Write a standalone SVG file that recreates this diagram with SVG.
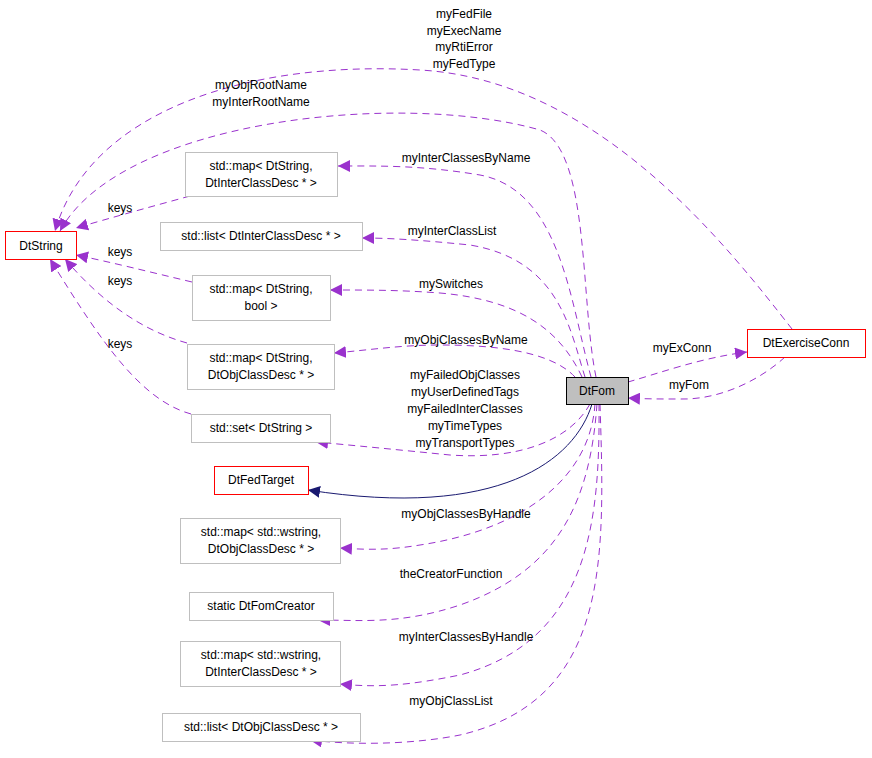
<svg xmlns="http://www.w3.org/2000/svg" width="872" height="758" viewBox="0 0 872 758">
<style>
text{font-family:"Liberation Sans",Arial,sans-serif;font-size:12px;fill:#000}
.n{fill:#fff;stroke:#bfbfbf}
.r{fill:#fff;stroke:#ff0000}
.e{fill:none;stroke:#9a32cd;stroke-dasharray:7,5}
.m{text-anchor:middle}
</style>
<defs>
<marker id="a" viewBox="0 0 10 10" refX="10" refY="5" markerWidth="12" markerHeight="12" markerUnits="userSpaceOnUse" orient="auto"><path d="M0,0L10,5L0,10z" fill="#9a32cd"/></marker>
<marker id="b" viewBox="0 0 10 10" refX="10" refY="5" markerWidth="12" markerHeight="12" markerUnits="userSpaceOnUse" orient="auto"><path d="M0,0L10,5L0,10z" fill="#191970"/></marker>
</defs>
<rect width="872" height="758" fill="#fff"/>
<g id="edges">
<path class="e" marker-end="url(#a)" d="M792,329C730,250 600,80 420,70C250,60 90,110 55,231"/>
<path class="e" marker-end="url(#a)" d="M596,377C580,300 590,150 540,130C400,90 120,120 60,231"/>
<path class="e" marker-end="url(#a)" d="M591,377C570,300 560,190 480,175C420,165 380,166 338,166"/>
<path class="e" marker-end="url(#a)" d="M585,377C570,330 560,260 470,245C420,240 390,238 362,238"/>
<path class="e" marker-end="url(#a)" d="M582,377C560,330 520,300 440,293C400,290 370,290 330,290"/>
<path class="e" marker-end="url(#a)" d="M575,377C550,350 490,345 440,345C400,345 370,350 334,353"/>
<path class="e" marker-end="url(#a)" d="M590,404C570,440 520,460 450,455C400,450 350,445 316,442"/>
<path stroke="#191970" fill="none" marker-end="url(#b)" d="M592,404C575,460 500,520 308,490"/>
<path class="e" marker-end="url(#a)" d="M595,404C590,480 520,530 420,545C390,550 370,550 340,548"/>
<path class="e" marker-end="url(#a)" d="M597,404C590,500 560,570 460,605C400,625 360,620 318,620"/>
<path class="e" marker-end="url(#a)" d="M599,404C600,520 590,640 460,675C410,685 380,688 340,684"/>
<path class="e" marker-end="url(#a)" d="M600,404C605,560 610,700 460,735C410,745 350,745 310,740"/>
<path class="e" marker-end="url(#a)" d="M628,382C660,373 700,358 747,352"/>
<path class="e" marker-end="url(#a)" d="M785,357C760,380 720,400 680,399C660,399 645,399 628,398"/>
<path class="e" marker-end="url(#a)" d="M190,196C150,207 110,218 76,228"/>
<path class="e" marker-end="url(#a)" d="M192,282C150,272 110,262 76,255"/>
<path class="e" marker-end="url(#a)" d="M187,343C140,330 100,300 65,259"/>
<path class="e" marker-end="url(#a)" d="M191,414C140,400 100,340 50,259"/>
</g>
<g id="labels">
<text class="m" x="464" y="18">myFedFile</text>
<text class="m" x="464" y="35">myExecName</text>
<text class="m" x="464" y="51">myRtiError</text>
<text class="m" x="464" y="68">myFedType</text>
<text class="m" x="261" y="89">myObjRootName</text>
<text class="m" x="261" y="106">myInterRootName</text>
<text class="m" x="466" y="162">myInterClassesByName</text>
<text class="m" x="452" y="235">myInterClassList</text>
<text class="m" x="451" y="288">mySwitches</text>
<text class="m" x="466" y="344">myObjClassesByName</text>
<text class="m" x="465" y="379">myFailedObjClasses</text>
<text class="m" x="465" y="396">myUserDefinedTags</text>
<text class="m" x="465" y="413">myFailedInterClasses</text>
<text class="m" x="465" y="430">myTimeTypes</text>
<text class="m" x="465" y="447">myTransportTypes</text>
<text class="m" x="466" y="518">myObjClassesByHandle</text>
<text class="m" x="451" y="578">theCreatorFunction</text>
<text class="m" x="466" y="641">myInterClassesByHandle</text>
<text class="m" x="451" y="705">myObjClassList</text>
<text class="m" x="682" y="352">myExConn</text>
<text class="m" x="689" y="389">myFom</text>
<text class="m" x="120" y="212">keys</text>
<text class="m" x="120" y="256">keys</text>
<text class="m" x="120" y="285">keys</text>
<text class="m" x="120" y="348">keys</text>
</g>
<g id="DtString"><rect class="r" x="5.5" y="231.5" width="71" height="28"/><text class="m" x="41" y="250">DtString</text></g>
<g id="DtFom"><rect x="566.5" y="377.5" width="62" height="27" fill="#bfbfbf" stroke="#000"/><text class="m" x="597" y="395">DtFom</text></g>
<g id="DtExerciseConn"><rect x="747.5" y="329.5" width="118" height="28" fill="#ffffff" stroke="#ff0000"/><text class="m" x="806" y="347">DtExerciseConn</text></g>
<g id="n1"><rect class="n" x="185.5" y="152.5" width="152" height="44"/><text class="m" x="261" y="170">std::map&lt; DtString,</text><text class="m" x="261" y="187">DtInterClassDesc * &gt;</text></g>
<g id="n2"><rect class="n" x="160.5" y="222.5" width="202" height="28"/><text class="m" x="261" y="240">std::list&lt; DtInterClassDesc * &gt;</text></g>
<g id="n3"><rect class="n" x="192.5" y="275.5" width="138" height="45"/><text class="m" x="261" y="293">std::map&lt; DtString,</text><text class="m" x="261" y="310">bool &gt;</text></g>
<g id="n4"><rect class="n" x="187.5" y="344.5" width="147" height="45"/><text class="m" x="261" y="362">std::map&lt; DtString,</text><text class="m" x="261" y="379">DtObjClassDesc * &gt;</text></g>
<g id="n5"><rect class="n" x="191.5" y="414.5" width="139" height="28"/><text class="m" x="261" y="432">std::set&lt; DtString &gt;</text></g>
<g id="DtFedTarget"><rect class="r" x="214.5" y="466.5" width="94" height="28"/><text class="m" x="261" y="484">DtFedTarget</text></g>
<g id="n6"><rect class="n" x="180.5" y="518.5" width="160" height="45"/><text class="m" x="261" y="536">std::map&lt; std::wstring,</text><text class="m" x="261" y="553">DtObjClassDesc * &gt;</text></g>
<g id="n7"><rect class="n" x="189.5" y="592.5" width="144" height="28"/><text class="m" x="261" y="610">static DtFomCreator</text></g>
<g id="n8"><rect class="n" x="180.5" y="641.5" width="160" height="45"/><text class="m" x="261" y="659">std::map&lt; std::wstring,</text><text class="m" x="261" y="676">DtInterClassDesc * &gt;</text></g>
<g id="n9"><rect class="n" x="162.5" y="713.5" width="198" height="28"/><text class="m" x="261" y="731">std::list&lt; DtObjClassDesc * &gt;</text></g>
</svg>
